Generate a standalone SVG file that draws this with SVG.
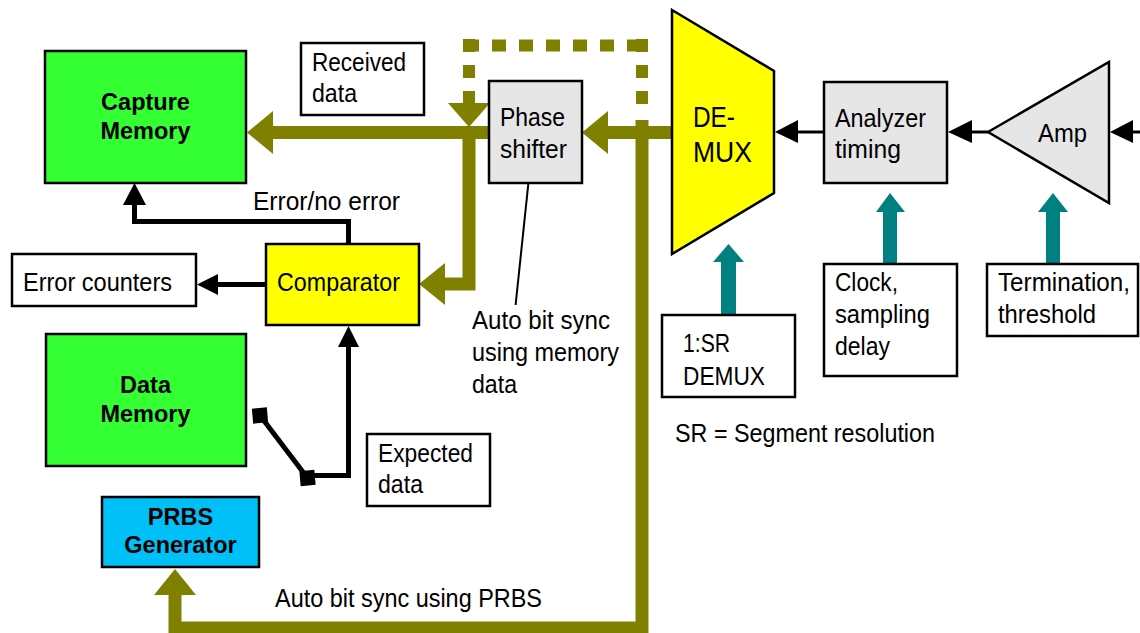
<svg xmlns="http://www.w3.org/2000/svg" width="1140" height="633" viewBox="0 0 1140 633">
<style>
.t{font-family:"Liberation Sans",Arial,sans-serif;font-size:26px;fill:#000}
.b{font-family:"Liberation Sans",Arial,sans-serif;font-size:23.5px;font-weight:bold;fill:#000;text-anchor:middle}
.box{stroke:#000;stroke-width:2.5}
.ol{fill:none;stroke:#808000;stroke-width:13}
.olh{fill:#808000}
.dot{fill:none;stroke:#808000;stroke-width:12}
.bk{fill:none;stroke:#000;stroke-width:5}
.bk3{fill:none;stroke:#000;stroke-width:3}
.bkh{fill:#000}
.tl{fill:#008080}
</style>
<rect width="1140" height="633" fill="#fff"/>

<g id="connectors">
  <!-- olive main data path -->
  <line class="ol" x1="273" y1="132.5" x2="489" y2="132.5"/>
  <polygon class="olh" points="247,132.5 273,111 273,154"/>
  <path class="ol" d="M469,126 V284 H445" stroke-linejoin="miter"/>
  <polygon class="olh" points="419,284 445,263 445,305"/>
  <line class="ol" x1="672" y1="132.5" x2="608" y2="132.5"/>
  <polygon class="olh" points="582,132.5 608,111 608,154"/>
  <path class="ol" d="M642,120 V628 H175 V594" stroke-linejoin="miter"/>
  <polygon class="olh" points="175,569 154,595 196,595"/>
  <!-- dotted loop -->
  <line class="dot" x1="463" y1="45.5" x2="648" y2="45.5" stroke-dasharray="16 13 14 13 14 13 14 13 14 13 14 13 20"/>
  <line class="dot" x1="469" y1="39" x2="469" y2="104" stroke-dasharray="13 13"/>
  <line class="dot" x1="642" y1="39" x2="642" y2="107" stroke-dasharray="13 13"/>
  <polygon class="olh" points="448,103 490,103 469,127"/>
  <!-- black connectors -->
  <path class="bk" d="M348.5,244 V221.5 H134.5 V204"/>
  <polygon class="bkh" points="134.5,183 123,205 146,205"/>
  <line class="bk" x1="266" y1="284.5" x2="217" y2="284.5"/>
  <polygon class="bkh" points="197,284.5 218,274 218,295"/>
  <line x1="260" y1="415.5" x2="307.5" y2="478" stroke="#000" stroke-width="5"/>
  <rect x="252.5" y="408" width="15" height="15" fill="#000" transform="rotate(-5 260 415.5)"/>
  <rect x="300" y="470.5" width="15" height="15" fill="#000" transform="rotate(-5 307.5 478)"/>
  <path class="bk" d="M307,475.5 H348.5 V346"/>
  <polygon class="bkh" points="348.5,326 338,347 359,347"/>
  <line class="bk3" x1="824" y1="132" x2="797" y2="132"/>
  <polygon class="bkh" points="775,132 798,120 798,143"/>
  <line class="bk3" x1="988" y1="132" x2="971" y2="132"/>
  <polygon class="bkh" points="948,132 972,120 972,143"/>
  <line class="bk3" x1="1140" y1="132" x2="1132" y2="132"/>
  <polygon class="bkh" points="1110,132 1133,120 1133,143"/>
  <!-- teal control arrows -->
  <rect class="tl" x="721" y="261" width="15" height="54"/>
  <polygon class="tl" points="728.5,244 713,262 744,262"/>
  <rect class="tl" x="883" y="211" width="14" height="53"/>
  <polygon class="tl" points="890,193 876,212 905,212"/>
  <rect class="tl" x="1046" y="211" width="14" height="53"/>
  <polygon class="tl" points="1053,193 1038,212 1068,212"/>
  <!-- callout -->
  <line x1="528.3" y1="184" x2="515.6" y2="305" stroke="#000" stroke-width="2"/>
</g>

<g id="capture-memory">
  <rect class="box" x="45" y="51" width="201" height="132" fill="#33FF33"/>
  <text class="b" x="145.5" y="110">Capture</text>
  <text class="b" x="145.5" y="139">Memory</text>
</g>
<g id="received-data">
  <rect class="box" x="301" y="43" width="123" height="72" fill="#fff"/>
  <text class="t" x="312" y="71" textLength="94" lengthAdjust="spacingAndGlyphs">Received</text>
  <text class="t" x="312" y="102" textLength="45" lengthAdjust="spacingAndGlyphs">data</text>
</g>
<g id="phase-shifter">
  <rect class="box" x="489" y="81" width="93" height="102" fill="#E6E6E6"/>
  <text class="t" x="500" y="126" textLength="65" lengthAdjust="spacingAndGlyphs">Phase</text>
  <text class="t" x="500" y="158" textLength="67" lengthAdjust="spacingAndGlyphs">shifter</text>
</g>
<g id="demux">
  <polygon points="672,10 774,71 774,193 672,254" fill="#FFFF00" stroke="#000" stroke-width="2.5"/>
  <text class="t" x="693" y="127" style="font-size:29px" textLength="42" lengthAdjust="spacingAndGlyphs">DE-</text>
  <text class="t" x="693" y="162" style="font-size:29px" textLength="59" lengthAdjust="spacingAndGlyphs">MUX</text>
</g>
<g id="analyzer-timing">
  <rect class="box" x="824" y="82" width="123" height="101" fill="#E6E6E6"/>
  <text class="t" x="835" y="127" textLength="91" lengthAdjust="spacingAndGlyphs">Analyzer</text>
  <text class="t" x="835" y="158" textLength="66" lengthAdjust="spacingAndGlyphs">timing</text>
</g>
<g id="amp">
  <polygon points="988,132 1109,62 1109,203" fill="#E6E6E6" stroke="#000" stroke-width="2.5"/>
  <text class="t" x="1038" y="142" textLength="49" lengthAdjust="spacingAndGlyphs">Amp</text>
</g>
<g id="error-counters">
  <rect class="box" x="12" y="254" width="184" height="52" fill="#fff"/>
  <text class="t" x="23" y="291" textLength="149" lengthAdjust="spacingAndGlyphs">Error counters</text>
</g>
<g id="comparator">
  <rect class="box" x="266" y="244" width="153" height="81" fill="#FFFF00"/>
  <text class="t" x="277" y="291" textLength="123" lengthAdjust="spacingAndGlyphs">Comparator</text>
</g>
<g id="error-label">
  <text class="t" x="253" y="209.5" textLength="147" lengthAdjust="spacingAndGlyphs">Error/no error</text>
</g>
<g id="data-memory">
  <rect class="box" x="46" y="334" width="200" height="132" fill="#33FF33"/>
  <text class="b" x="145.5" y="393">Data</text>
  <text class="b" x="145.5" y="422">Memory</text>
</g>
<g id="expected-data">
  <rect class="box" x="367" y="434" width="123" height="72" fill="#fff"/>
  <text class="t" x="378" y="462" textLength="95" lengthAdjust="spacingAndGlyphs">Expected</text>
  <text class="t" x="378" y="493" textLength="45" lengthAdjust="spacingAndGlyphs">data</text>
</g>
<g id="prbs-generator">
  <rect class="box" x="102" y="497" width="157" height="70" fill="#00C0F8"/>
  <text class="b" x="180.5" y="525">PRBS</text>
  <text class="b" x="180.5" y="553">Generator</text>
</g>
<g id="auto-sync-memory">
  <text class="t" x="472" y="329" textLength="138" lengthAdjust="spacingAndGlyphs">Auto bit sync</text>
  <text class="t" x="472" y="361" textLength="147" lengthAdjust="spacingAndGlyphs">using memory</text>
  <text class="t" x="472" y="393" textLength="45" lengthAdjust="spacingAndGlyphs">data</text>
</g>
<g id="auto-sync-prbs">
  <text class="t" x="275" y="607" textLength="267" lengthAdjust="spacingAndGlyphs">Auto bit sync using PRBS</text>
</g>
<g id="sr-demux">
  <rect class="box" x="662" y="315" width="133" height="82" fill="#fff"/>
  <text class="t" x="683" y="352" textLength="47" lengthAdjust="spacingAndGlyphs">1:SR</text>
  <text class="t" x="683" y="385" textLength="82" lengthAdjust="spacingAndGlyphs">DEMUX</text>
</g>
<g id="sr-note">
  <text class="t" x="675" y="442" textLength="260" lengthAdjust="spacingAndGlyphs">SR = Segment resolution</text>
</g>
<g id="clock">
  <rect class="box" x="824" y="264" width="133" height="112" fill="#fff"/>
  <text class="t" x="835" y="291" textLength="63" lengthAdjust="spacingAndGlyphs">Clock,</text>
  <text class="t" x="835" y="323" textLength="95" lengthAdjust="spacingAndGlyphs">sampling</text>
  <text class="t" x="835" y="355" textLength="55" lengthAdjust="spacingAndGlyphs">delay</text>
</g>
<g id="termination">
  <rect class="box" x="987" y="264" width="151" height="72" fill="#fff"/>
  <text class="t" x="998" y="291" textLength="132" lengthAdjust="spacingAndGlyphs">Termination,</text>
  <text class="t" x="998" y="323" textLength="98" lengthAdjust="spacingAndGlyphs">threshold</text>
</g>
</svg>
